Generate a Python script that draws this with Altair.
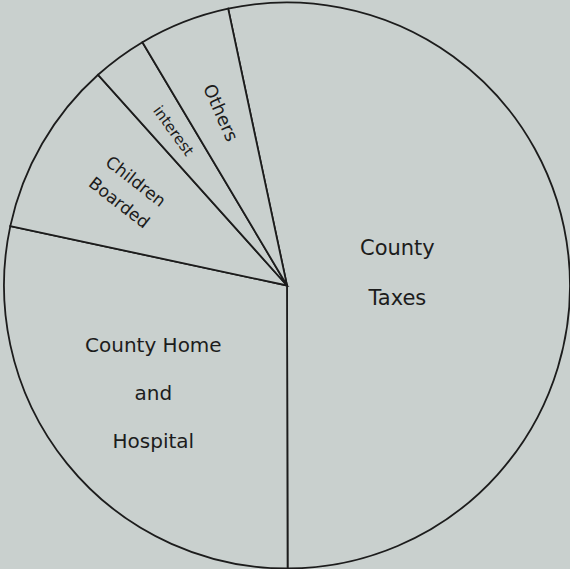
import math
import altair as alt
import pandas as pd

categories = ["County Taxes", "County Home and Hospital", "Children Boarded", "Interest", "Others"]
labels = ["County\nTaxes", "County Home\nand\nHospital", "Children\nBoarded", "interest", "Others"]
shares = [53.3, 28.4, 10.0, 3.1, 5.2]
order_idx = [0, 1, 2, 3, 4]

df = pd.DataFrame({"category": categories, "label": labels, "share": shares, "idx": order_idx})

BG = "#c9d0ce"
INK = "#1c1c1c"
start = 2 * math.pi - math.radians(12)

theta = alt.Theta("share:Q", stack=True,
                  scale=alt.Scale(type="linear", range=[start, start + 2 * math.pi]))
order = alt.Order("idx:Q")

base = alt.Chart(df).encode(theta=theta, order=order)

pie = base.mark_arc(outerRadius=283, fill=BG, stroke=INK, strokeWidth=1.8)


def label_layer(cat, radius, size, angle=0, line_height=20, n_lines=1):
    return base.mark_text(
        radius=radius, fontSize=size, angle=angle, font="DejaVu Sans",
        color=INK, lineBreak="\n", lineHeight=line_height,
        align="center", baseline="middle", dy=-(n_lines - 1) * line_height / 2,
    ).encode(
        text=alt.condition(alt.datum.category == cat, alt.Text("label:N"), alt.value(""))
    )


layers = [
    pie,
    label_layer("County Taxes", 111, 21, 0, 50, 2),
    label_layer("County Home and Hospital", 172, 20, 0, 48, 3),
    label_layer("Children Boarded", 185, 17, 38, 27, 2),
    label_layer("Interest", 192, 15, 54, 16, 1),
    label_layer("Others", 185, 18, 66, 18, 1),
]

chart = alt.layer(*layers).properties(
    width=566, height=567,
    padding={"left": 4, "top": 2, "right": 0, "bottom": 0},
    autosize=alt.AutoSizeParams(type="none"),
    background=BG,
).configure_view(stroke=None)

chart.save("out.html", embed_options={"renderer": "svg", "actions": False})
